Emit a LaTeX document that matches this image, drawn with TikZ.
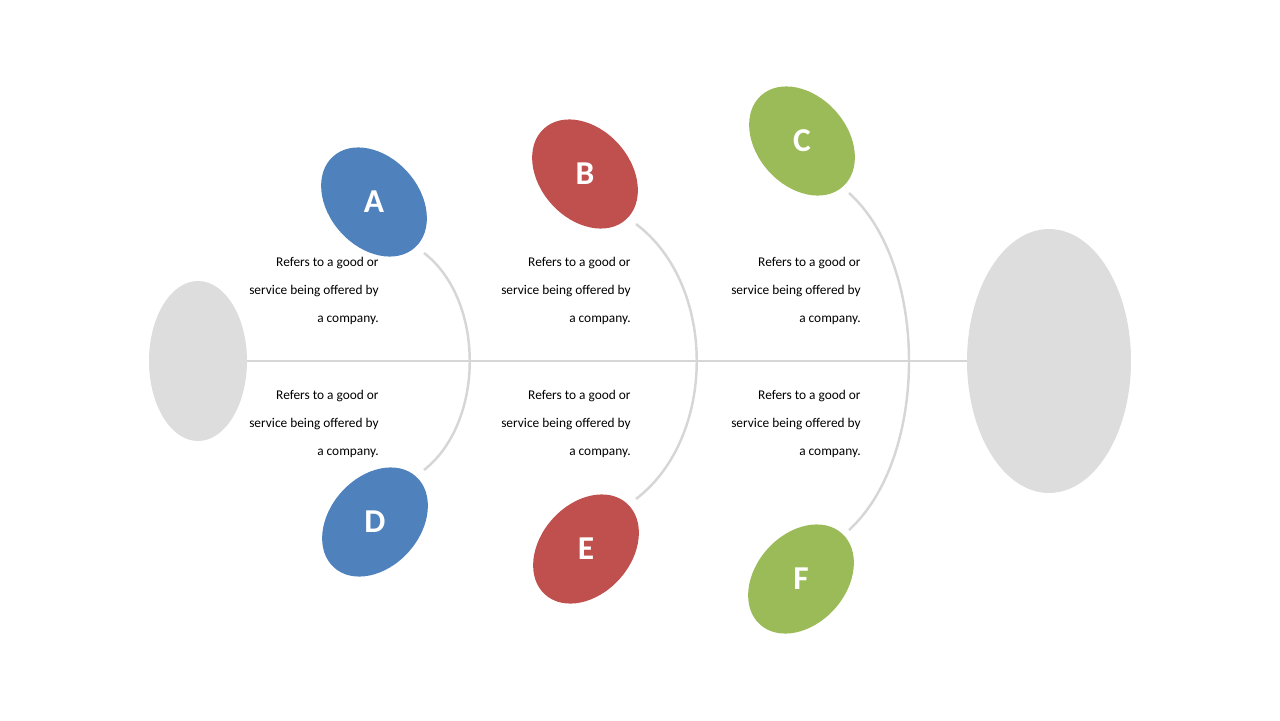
\documentclass[tikz,border=0pt]{standalone}
\usepackage{fontspec}
\setmainfont{Carlito}
\definecolor{fishblue}{RGB}{79,129,189}
\definecolor{fishred}{RGB}{192,80,77}
\definecolor{fishgreen}{RGB}{155,187,89}
\definecolor{fishgray}{RGB}{221,221,221}
\definecolor{bonegray}{RGB}{214,214,214}
\usetikzlibrary{shapes.geometric}

\begin{document}
\begin{tikzpicture}[
                    x=0.02cm, y=-0.02cm,
                    head/.style={
                        ellipse,
                        fill=fishgray,
                        draw=none
                    },
                    bubble/.style={
                        ellipse,
                        draw=none,
                        text=white,
                        font=\fontsize{19}{19}\selectfont\bfseries,
                        minimum width=2.45cm,
                        minimum height=1.8cm
                    },
                    note/.style={
                        anchor=north east,
                        align=right,
                        font=\fontsize{7.6}{16}\selectfont,
                        inner sep=0pt
                    },
                    bone/.style={
                        draw=bonegray,
                        line width=1.4pt
                    }
                ]
                    \useasboundingbox (0,0) rectangle (1280,720);
                    % body
                    \node[head, minimum width=1.96cm, minimum height=3.2cm] (tail) at (198,361) {};
                    \node[head, minimum width=3.28cm, minimum height=5.28cm] (fish) at (1049,361) {};
                    \draw[bone] (tail.east) -- (fish.west);
                    % bubbles
                    \node[bubble, fill=fishblue, rotate=-48] (A) at (374,202) {\rotatebox{48}{A}};
                    \node[bubble, fill=fishred, rotate=-48] (B) at (585,174) {\rotatebox{48}{B}};
                    \node[bubble, fill=fishgreen, rotate=-48] (C) at (802,141) {\rotatebox{48}{C}};
                    \node[bubble, fill=fishblue, rotate=48] (D) at (375,522) {\rotatebox{-48}{D}};
                    \node[bubble, fill=fishred, rotate=48] (E) at (586,549) {\rotatebox{-48}{E}};
                    \node[bubble, fill=fishgreen, rotate=48] (F) at (801,579) {\rotatebox{-48}{F}};
                    % bones
                    \coordinate (a1) at (424,253);
                    \coordinate (d1) at (424,470);
                    \coordinate (b1) at (636,224);
                    \coordinate (e1) at (636,499);
                    \coordinate (c1) at (849,193);
                    \coordinate (f1) at (849,530);
                    \draw[bone] (a1) .. controls (485,300) and (485,422) .. (d1);
                    \draw[bone] (b1) .. controls (717,285) and (717,437) .. (e1);
                    \draw[bone] (c1) .. controls (929,265) and (929,457) .. (f1);
                    % notes
                    \foreach \nx/\nm in {379/ab,631/be,861/cf}{
                        \node[note] (up\nm) at (\nx,257) {Refers to a good or\\service being offered by\\a company.};
                        \node[note] (lo\nm) at (\nx,390) {Refers to a good or\\service being offered by\\a company.};
                    }
                \end{tikzpicture}
\end{document}
